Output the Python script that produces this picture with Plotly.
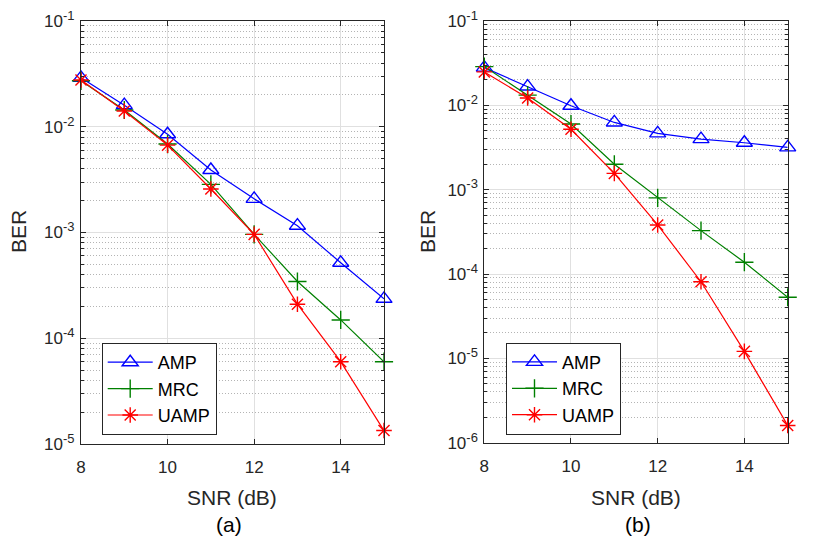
import plotly.graph_objects as go
from plotly.subplots import make_subplots

snr = [8, 9, 10, 11, 12, 13, 14, 15]

# panel (a)
amp_a = [0.029, 0.016, 0.0085, 0.0039, 0.00208, 0.00116, 0.000517, 0.000236]
mrc_a = [0.0272, 0.0144, 0.00686, 0.00285, 0.00096, 0.000344, 0.000149, 6.0e-5]
uamp_a = [0.0277, 0.0141, 0.0067, 0.00258, 0.00096, 0.00021, 6.0e-5, 1.34e-5]

# panel (b)
amp_b = [0.028, 0.0167, 0.0099, 0.00627, 0.00465, 0.00398, 0.0036, 0.00317]
mrc_b = [0.0288, 0.0132, 0.006, 0.002, 0.0008, 0.000327, 0.000138, 5.3e-5]
uamp_b = [0.0249, 0.0122, 0.0052, 0.00156, 0.000382, 8.1e-5, 1.21e-5, 1.6e-6]

names = ["AMP", "MRC", "UAMP"]
colors = ["#0000ff", "#008000", "#ff0000"]
symbols = ["triangle-up-open", "cross-thin-open", "asterisk-open"]
msizes = [14, 13, 13]

font = "Liberation Sans, Arial, sans-serif"
ink = "#262626"
OFF = 8  # page body margin
W, H = 830 - OFF, 544 - OFF

def px(x):
    return (x - OFF) / W

def py(y):
    return 1 - (y - OFF) / H

fig = make_subplots(rows=1, cols=2)

panels = [(amp_a, mrc_a, uamp_a), (amp_b, mrc_b, uamp_b)]
for col, series in enumerate(panels, start=1):
    for name, ys, c, s, ms in zip(names, series, colors, symbols, msizes):
        fig.add_trace(go.Scatter(
            x=snr, y=ys, name=name, mode="lines+markers", cliponaxis=False,
            line=dict(color=c, width=1.2),
            marker=dict(symbol=s, size=ms, color=c, line=dict(color=c, width=1.4)),
            legend="legend" if col == 1 else "legend2",
        ), row=1, col=col)

def minor_vals(lo, hi):
    out = []
    for e in range(lo, hi):
        for k in range(2, 10):
            out.append(k * 10 ** e)
    return out

axis_common = dict(
    showline=True, linecolor=ink, linewidth=1, mirror="ticks",
    ticks="inside", ticklen=5, tickcolor=ink, ticklabeloverflow="allow",
    tickfont=dict(family=font, size=17, color=ink),
    gridcolor="#e0e0e0", gridwidth=1, zeroline=False, automargin=False,
)

# screen-pixel boxes of the two plot areas: (left, right, top, bottom)
boxes = [(81, 384, 21, 444), (484.3, 787.7, 21, 442.7)]
lows = [-5, -6]

for col, ((l, r, t, b), lo) in enumerate(zip(boxes, lows), start=1):
    fig.update_xaxes(range=[8, 15], tickvals=[8, 10, 12, 14], domain=[px(l), px(r)],
                     ticklabelstandoff=8, row=1, col=col, **axis_common)
    decades = list(range(lo, 0))
    fig.update_yaxes(type="log", range=[lo, -1], domain=[py(b), py(t)],
                     tickvals=[10 ** e for e in decades],
                     ticktext=["10<sup><span style='font-size:13px'>%d</span></sup>" % e
                               for e in decades],
                     ticklabelstandoff=2,
                     minor=dict(tickvals=minor_vals(lo, -1), ticks="inside", ticklen=3,
                                tickcolor=ink, showgrid=True, gridcolor="#b4b4b4",
                                griddash="1px,2px", gridwidth=1),
                     row=1, col=col, **axis_common)

title_font = dict(family=font, size=21, color=ink)
label_font = dict(family=font, size=21, color="#000000")
annotations = []
for cx_t, cx_b in [(232, 18), (636, 427)]:
    annotations.append(dict(text="SNR (dB)", x=px(cx_t), y=py(497), xref="paper", yref="paper",
                            showarrow=False, font=title_font, xanchor="center", yanchor="middle"))
    annotations.append(dict(text="BER", x=px(cx_b), y=py(232), xref="paper", yref="paper",
                            showarrow=False, font=title_font, textangle=-90,
                            xanchor="center", yanchor="middle"))
for lab, bx in [("(a)", 229), ("(b)", 638)]:
    annotations.append(dict(text=lab, x=px(bx), y=py(524), xref="paper", yref="paper",
                            showarrow=False, font=label_font, xanchor="center", yanchor="middle"))

legend_style = dict(
    bgcolor="white", bordercolor=ink, borderwidth=1,
    font=dict(family=font, size=18, color="#000000"),
    xanchor="left", yanchor="top", itemwidth=45, tracegroupgap=0,
)
fig.update_layout(
    width=W, height=H,
    margin=dict(l=0, r=0, t=0, b=0),
    plot_bgcolor="white", paper_bgcolor="white",
    legend=dict(x=px(101.7), y=py(343), **legend_style),
    legend2=dict(x=px(506), y=py(342.7), **legend_style),
    annotations=annotations,
)

fig.write_html("out.html")
